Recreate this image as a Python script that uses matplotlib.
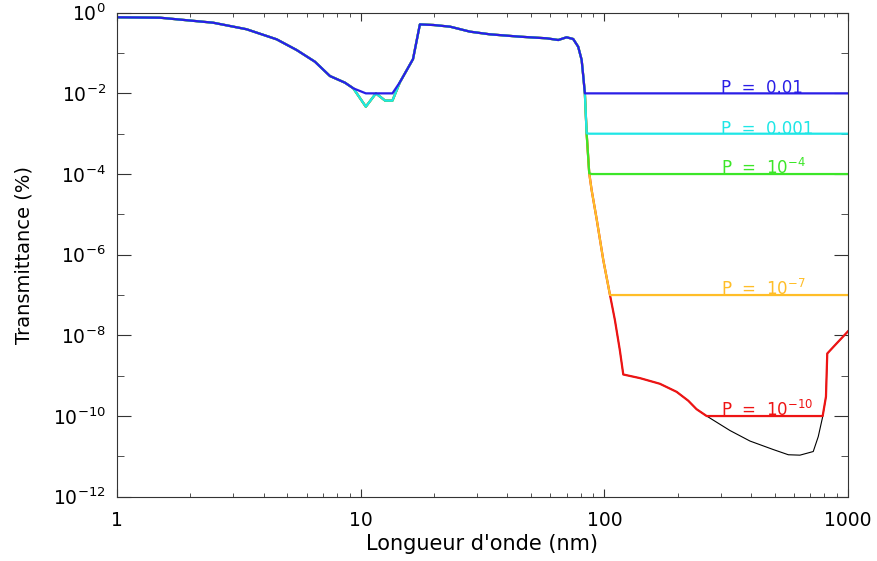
import numpy as np
import matplotlib
matplotlib.use('Agg')
import matplotlib.pyplot as plt
from matplotlib.ticker import FixedLocator, LogFormatterMathtext, NullFormatter

# transmittance curve (wavelength in nm, log10 of T in %)
wavelength = [1.0, 1.5, 2.48, 3.4, 4.52, 5.46, 6.49, 7.48, 8.62, 9.33,
              10.5, 11.55, 12.6, 13.5, 14.5, 16.4, 17.5, 19.9, 23.3, 28.1,
              33.9, 45.1, 58.0, 64.7, 70.0, 74.5, 78.1, 80.7, 82.0, 83.2,
              84.6, 86.7, 88.7, 92.9, 99.0, 105.5, 110.5, 115.8, 119.6, 140,
              169, 198, 221, 239, 263, 328, 396, 493, 569, 635,
              720, 755, 787, 812, 822, 898, 1000]
log_trans = [-0.114, -0.124, -0.248, -0.41, -0.66, -0.925, -1.215, -1.57, -1.735, -1.875,
             -2.33, -2.0, -2.18, -2.18, -1.72, -1.15, -0.29, -0.305, -0.347, -0.47,
             -0.536, -0.595, -0.635, -0.677, -0.61, -0.652, -0.843, -1.17, -1.59, -2.0,
             -2.99, -3.98, -4.4, -5.1, -6.13, -7.0, -7.62, -8.37, -8.97, -9.06,
             -9.2, -9.40, -9.62, -9.83, -10.0, -10.36, -10.62, -10.83, -10.96, -10.97,
             -10.88, -10.51, -10.02, -9.52, -8.45, -8.2, -7.9]

# probability floors
levels = [0.01, 0.001, 1e-4, 1e-7, 1e-10]
level_labels = ['P  =  0.01', 'P  =  0.001', 'P  =  $10^{-4}$',
                'P  =  $10^{-7}$', 'P  =  $10^{-10}$']
level_colors = ['#2a1ee6', '#1ee6e6', '#3ce628', '#ffbe28', '#ee1414']
label_x = 300

ytick_major = [1e-12, 1e-10, 1e-8, 1e-6, 1e-4, 1e-2, 1e0]
ytick_minor = [1e-11, 1e-9, 1e-7, 1e-5, 1e-3, 1e-1]
xtick_major = [1, 10, 100, 1000]
xtick_labels = ['1', '10', '100', '1000']

plt.rcParams['mathtext.default'] = 'regular'

fig = plt.figure(figsize=(8.77, 5.61), dpi=100)
ax = fig.add_axes([117/877, 1 - 496.7/561, 731/877, 484/561])

trans = 10**np.array(log_trans)
ax.plot(wavelength, trans, color='k', lw=0.8)
for P, lab, c in reversed(list(zip(levels, level_labels, level_colors))):
    ax.plot(wavelength, np.maximum(trans, P), color=c, lw=1.6)
    ax.text(label_x, P, lab, color=c, fontsize=12, va='baseline')

ax.set_xscale('log')
ax.set_yscale('log')
ax.set_xlim(1, 1000)
ax.set_ylim(1e-12, 1)

ax.xaxis.set_major_locator(FixedLocator(xtick_major))
ax.set_xticklabels(xtick_labels)
ax.yaxis.set_major_locator(FixedLocator(ytick_major))
ax.yaxis.set_major_formatter(LogFormatterMathtext())
ax.yaxis.set_minor_locator(FixedLocator(ytick_minor))
ax.yaxis.set_minor_formatter(NullFormatter())

ax.tick_params(which='both', direction='in', top=True, right=True,
               labelsize=13.5, color='#333333')
ax.tick_params(axis='x', which='major', length=6, pad=10)
ax.tick_params(axis='x', which='minor', length=3)
ax.tick_params(axis='y', which='major', length=10, pad=8)
ax.tick_params(axis='y', which='minor', length=5)
for s in ax.spines.values():
    s.set_color('#333333')

ax.set_xlabel("Longueur d'onde (nm)", fontsize=15, labelpad=3)
ax.set_ylabel('Transmittance (%)', fontsize=14, labelpad=14)

fig.savefig('out.png', dpi=100)
